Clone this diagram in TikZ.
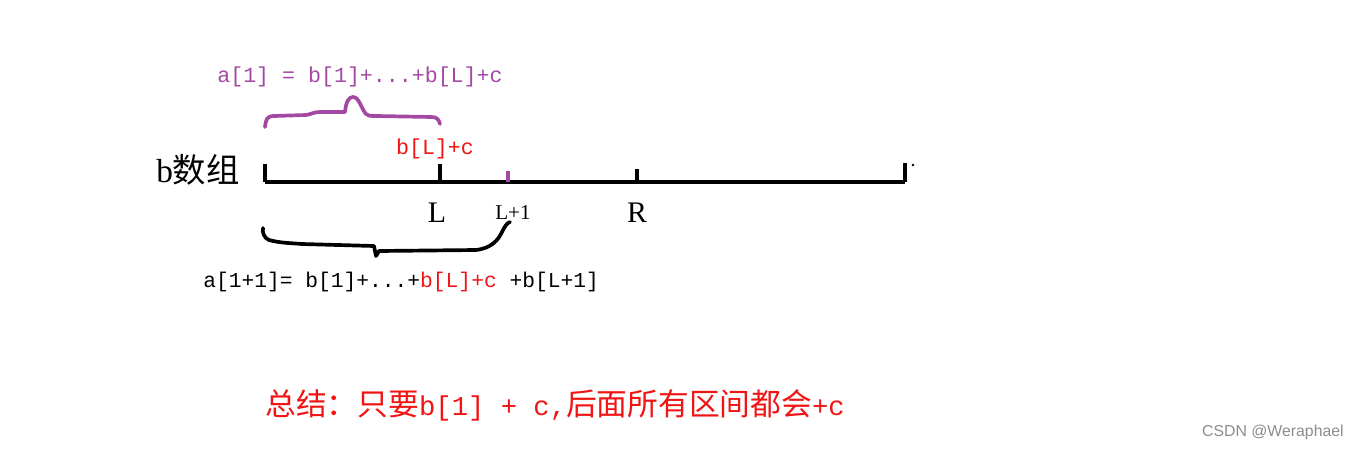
\documentclass[tikz,border=0pt]{standalone}
\usepackage{fontspec}
\setmainfont{Liberation Serif}
\setmonofont{Liberation Mono}
\newfontfamily\cjk{Noto Sans CJK SC}
\newfontfamily\wmfont{Liberation Sans}
\usetikzlibrary{positioning}
\definecolor{bracepurple}{RGB}{163,73,164}
\definecolor{hintred}{RGB}{240,20,20}
\colorlet{markgray}{black!45}
\tikzset{
  axis/.style={line width=2.3pt},
  tickmark/.style={line width=2.1pt},
  handbrace/.style={line width=2.1pt, line cap=round, line join=round},
  formula/.style={font=\ttfamily\fontsize{12.3}{14}\selectfont, inner sep=0pt},
  pos label/.style={font=\fontsize{17}{19}\selectfont, inner sep=0pt}
}

\begin{document}
\begin{tikzpicture}[x=0.02cm, y=-0.02cm]
    \useasboundingbox (0,0) rectangle (1359,450);
    % the array b
    \node[inner sep=0pt, font=\fontsize{19}{22}\selectfont] (barr) at (198,170) {b{\cjk 数组}};
    \coordinate (p0) at (265,182);
    \coordinate (pL) at (440,182);
    \coordinate (pL1) at (508,182);
    \coordinate (pR) at (637,182);
    \coordinate (pN) at (905,182);
    \draw[axis] (p0) -- (pN);
    \draw[tickmark] (p0) -- ++(0,-18);
    \draw[tickmark] (pL) -- ++(0,-18);
    \draw[tickmark, bracepurple] (pL1) -- ++(0,-11);
    \draw[tickmark] (pR) -- ++(0,-13);
    \draw[tickmark] (pN) -- ++(0,-19);
    \fill (913,165) circle (1.4);
    % labels under the axis
    \node[pos label] (lblL) at (437,213) {L};
    \node[inner sep=0pt, font=\fontsize{12}{14}\selectfont] (lblL1) at (513,213) {L+1};
    \node[pos label] (lblR) at (637,213) {R};
    \node[formula, hintred] (addc) at (435,149) {b[L]+c};
    % upper brace
    \draw[handbrace, bracepurple] (265,127) .. controls (266,119) and (267,116) .. (274,116)
      -- (306,115) .. controls (312,114) and (314,112) .. (320,112) -- (345,112)
      .. controls (346,103) and (348,97) .. (353,97) .. controls (359,97) and (361,108) .. (366,114)
      .. controls (368,116) and (370,116) .. (376,116) -- (432,117) .. controls (437,117) and (439,120) .. (440,124);
    \node[formula, bracepurple] (sumA) at (360,77) {a[1] = b[1]+...+b[L]+c};
    % lower brace
    \draw[handbrace] (263,228) .. controls (262,232) and (264,238) .. (269,240)
      .. controls (280,243) and (290,243) .. (302,244) -- (374,246) -- (376,256) -- (379,251)
      -- (476,250) .. controls (492,248) and (498,240) .. (502,232) .. controls (505,226) and (507,223) .. (510,222);
    \node[formula, anchor=west, font=\ttfamily\fontsize{12.1}{14}\selectfont] (sumB) at (203,282)
      {a[1+1]= b[1]+...+\textcolor{hintred}{b[L]+c} +b[L+1]};
    % summary
    \node[inner sep=0pt, anchor=west, hintred] (summary) at (265,405)
      {{\cjk\fontsize{17.5}{20}\selectfont 总结：只要}{\ttfamily\fontsize{15.5}{20}\selectfont b[1] + c,}{\cjk\fontsize{17.5}{20}\selectfont 后面所有区间都会}{\ttfamily\fontsize{15.5}{20}\selectfont +c}};
    \node[inner sep=0pt, anchor=east, markgray, font=\wmfont\fontsize{9}{11}\selectfont] (mark) at (1344,432) {CSDN @Weraphael};
\end{tikzpicture}
\end{document}
